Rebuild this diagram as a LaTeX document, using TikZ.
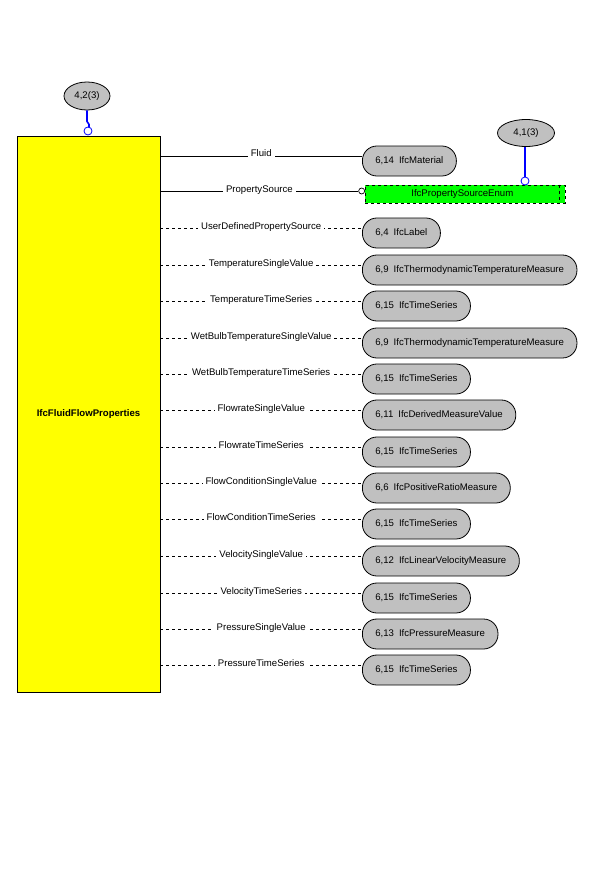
\documentclass[tikz,border=0pt]{standalone}
\usepackage{fontspec}
\setmainfont{Liberation Sans}
\usetikzlibrary{shapes.geometric}
\definecolor{pillgray}{RGB}{192,192,192}
\definecolor{enumgreen}{RGB}{0,255,0}
\definecolor{linkblue}{RGB}{0,0,255}
\definecolor{boxyellow}{RGB}{255,255,0}
\begin{document}
\begin{tikzpicture}[x=1pt,y=-1pt,
  every node/.style={font=\fontsize{9.6}{11}\selectfont},
  pill/.style={draw, fill=pillgray, rounded corners=14.5pt, minimum height=30pt, inner xsep=13pt, anchor=west, line width=0.8pt},
  lbl/.style={midway, anchor=base, yshift=-1pt, fill=white, inner xsep=3pt, inner ysep=1.5pt},
  dsh/.style={line width=0.8pt, dash pattern=on 3pt off 3pt},
  sol/.style={line width=0.8pt},
  ell/.style={draw, fill=pillgray, ellipse, line width=0.8pt, inner sep=0pt},
  blue link/.style={draw=linkblue, line width=1.6pt},
  openc/.style={circle, draw=linkblue, fill=white, line width=0.8pt, minimum size=8pt, inner sep=0pt}]
\useasboundingbox (0,0) rectangle (600,888);
% main entity
\node[draw, fill=boxyellow, minimum width=143pt, minimum height=556pt, line width=0.8pt,
  font=\fontsize{9.6}{11}\selectfont\bfseries] (box) at (88.5,414) {IfcFluidFlowProperties};
% top reference 4,2(3)
\node[ell, minimum width=46pt, minimum height=28pt] (r42) at (87,96) {4,2(3)};
\node[openc] (c42) at (88,131) {};
\draw[blue link] (r42.south) -- ++(0,11) -- ++(2,3) |- (c42.north);
% rows
\foreach \n/\y/\lab/\num/\cls/\st in {
  a/161/Fluid/{6,14}/IfcMaterial/sol,
  c/233/UserDefinedPropertySource/{6,4}/IfcLabel/dsh,
  d/270/TemperatureSingleValue/{6,9}/IfcThermodynamicTemperatureMeasure/dsh,
  e/306/TemperatureTimeSeries/{6,15}/IfcTimeSeries/dsh,
  f/343/WetBulbTemperatureSingleValue/{6,9}/IfcThermodynamicTemperatureMeasure/dsh,
  g/379/WetBulbTemperatureTimeSeries/{6,15}/IfcTimeSeries/dsh,
  h/415/FlowrateSingleValue/{6,11}/IfcDerivedMeasureValue/dsh,
  i/452/FlowrateTimeSeries/{6,15}/IfcTimeSeries/dsh,
  j/488/FlowConditionSingleValue/{6,6}/IfcPositiveRatioMeasure/dsh,
  k/524/FlowConditionTimeSeries/{6,15}/IfcTimeSeries/dsh,
  l/561/VelocitySingleValue/{6,12}/IfcLinearVelocityMeasure/dsh,
  m/598/VelocityTimeSeries/{6,15}/IfcTimeSeries/dsh,
  n/634/PressureSingleValue/{6,13}/IfcPressureMeasure/dsh,
  o/670/PressureTimeSeries/{6,15}/IfcTimeSeries/dsh}
{
  \node[pill] (p\n) at (362,\y) {\num\hspace{5pt}\cls};
  \coordinate (e\n) at ([yshift=5pt]p\n.west);
  \draw[\st] (e\n -| box.east) -- (e\n) node[lbl] {\lab};
}
% enumeration
\node[draw, dashed, fill=enumgreen, minimum width=200pt, minimum height=18pt, inner sep=0pt, line width=0.6pt, anchor=west] (penum) at (365,194) {};
\node at ([xshift=-3pt]penum.center) {IfcPropertySourceEnum};
\draw[dashed, line width=0.6pt] ([xshift=-6pt]penum.north east) -- ([xshift=-6pt]penum.south east);
\node[circle, draw, fill=white, minimum size=6pt, inner sep=0pt, line width=0.7pt, anchor=east] (cps) at ([yshift=3pt]penum.west) {};
\draw[sol] (cps.west -| box.east) -- (cps.west) node[lbl] {PropertySource};
% reference 4,1(3)
\node[ell, minimum width=57pt, minimum height=27pt] (r41) at (526,133) {4,1(3)};
\node[openc] (c41) at (525,181) {};
\draw[blue link] (r41.south -| c41.north) -- (c41.north);
\end{tikzpicture}
\end{document}
